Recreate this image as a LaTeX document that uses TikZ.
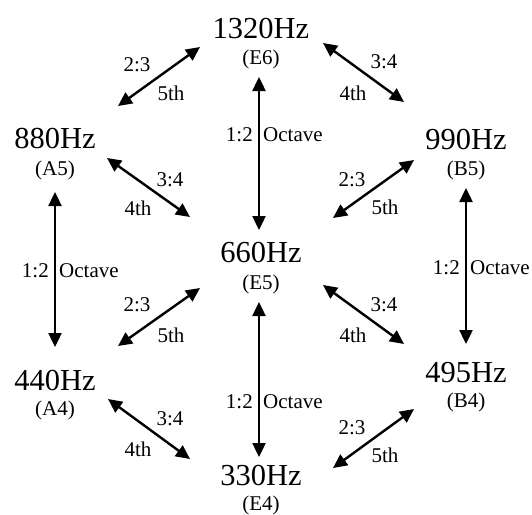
\documentclass[tikz,border=0pt]{standalone}
\usepackage{fontspec}
\setmainfont{Liberation Serif}
\usetikzlibrary{arrows.meta}
\tikzset{
  freq/.style={anchor=base, inner sep=0pt, font=\fontsize{30.5}{30.5}\selectfont},
  note/.style={anchor=base, inner sep=0pt, font=\fontsize{21}{21}\selectfont},
  lab/.style={inner sep=0pt, font=\fontsize{21}{21}\selectfont},
  dblarrow/.style={line width=2.4pt, {Triangle[length=14pt,width=13pt]}-{Triangle[length=14pt,width=13pt]}}
}
\begin{document}
\begin{tikzpicture}[x=1pt,y=-1pt]
\useasboundingbox (0,0) rectangle (532,514);
% frequency nodes
\node[freq] (f1320) at (261,38) {1320Hz};
\node[note] (n1320) at (261,64) {(E6)};
\node[freq] (f880) at (55,148) {880Hz};
\node[note] (n880) at (55,175) {(A5)};
\node[freq] (f990) at (466,149) {990Hz};
\node[note] (n990) at (466,175) {(B5)};
\node[freq] (f660) at (261,262) {660Hz};
\node[note] (n660) at (261,289) {(E5)};
\node[freq] (f440) at (55,390) {440Hz};
\node[note] (n440) at (55,415) {(A4)};
\node[freq] (f495) at (466,382) {495Hz};
\node[note] (n495) at (466,407) {(B4)};
\node[freq] (f330) at (261,485) {330Hz};
\node[note] (n330) at (261,510) {(E4)};
% arrow end points
\coordinate (a1) at (200,47);  \coordinate (b1) at (118,106);
\coordinate (a2) at (323,43);  \coordinate (b2) at (404,102);
\coordinate (a3) at (107,158); \coordinate (b3) at (190,217);
\coordinate (a4) at (414,160); \coordinate (b4) at (333,218);
\coordinate (a5) at (200,288); \coordinate (b5) at (118,346);
\coordinate (a6) at (323,285); \coordinate (b6) at (404,344);
\coordinate (a7) at (108,399); \coordinate (b7) at (190,459);
\coordinate (a8) at (414,409); \coordinate (b8) at (333,468);
\coordinate (v1a) at (259,77);  \coordinate (v1b) at (259,230);
\coordinate (v2a) at (55,192);  \coordinate (v2b) at (55,347);
\coordinate (v3a) at (466,188); \coordinate (v3b) at (466,344);
\coordinate (v4a) at (259,302); \coordinate (v4b) at (259,457);
% diagonal arrows
\draw[dblarrow] (a1) -- (b1);
\draw[dblarrow] (a2) -- (b2);
\draw[dblarrow] (a3) -- (b3);
\draw[dblarrow] (a4) -- (b4);
\draw[dblarrow] (a5) -- (b5);
\draw[dblarrow] (a6) -- (b6);
\draw[dblarrow] (a7) -- (b7);
\draw[dblarrow] (a8) -- (b8);
% vertical arrows
\draw[dblarrow] (v1a) -- (v1b);
\draw[dblarrow] (v2a) -- (v2b);
\draw[dblarrow] (v3a) -- (v3b);
\draw[dblarrow] (v4a) -- (v4b);
% diagonal labels
\node[lab] (l1a) at (137,65) {2:3};  \node[lab] (l1b) at (171,93) {5th};
\node[lab] (l2a) at (384,62) {3:4};  \node[lab] (l2b) at (353,93) {4th};
\node[lab] (l3a) at (170,180) {3:4}; \node[lab] (l3b) at (138,208) {4th};
\node[lab] (l4a) at (352,180) {2:3}; \node[lab] (l4b) at (385,207) {5th};
\node[lab] (l5a) at (137,305) {2:3}; \node[lab] (l5b) at (171,335) {5th};
\node[lab] (l6a) at (384,305) {3:4}; \node[lab] (l6b) at (353,335) {4th};
\node[lab] (l7a) at (170,419) {3:4}; \node[lab] (l7b) at (138,449) {4th};
\node[lab] (l8a) at (352,428) {2:3}; \node[lab] (l8b) at (385,455) {5th};
% vertical labels
\node[lab, anchor=east] (o1a) at (253,135) {1:2}; \node[lab, anchor=west] (o1b) at (263,135) {Octave};
\node[lab, anchor=east] (o2a) at (49,271) {1:2};  \node[lab, anchor=west] (o2b) at (59,271) {Octave};
\node[lab, anchor=east] (o3a) at (460,268) {1:2}; \node[lab, anchor=west] (o3b) at (470,268) {Octave};
\node[lab, anchor=east] (o4a) at (253,402) {1:2}; \node[lab, anchor=west] (o4b) at (263,402) {Octave};
\end{tikzpicture}
\end{document}
